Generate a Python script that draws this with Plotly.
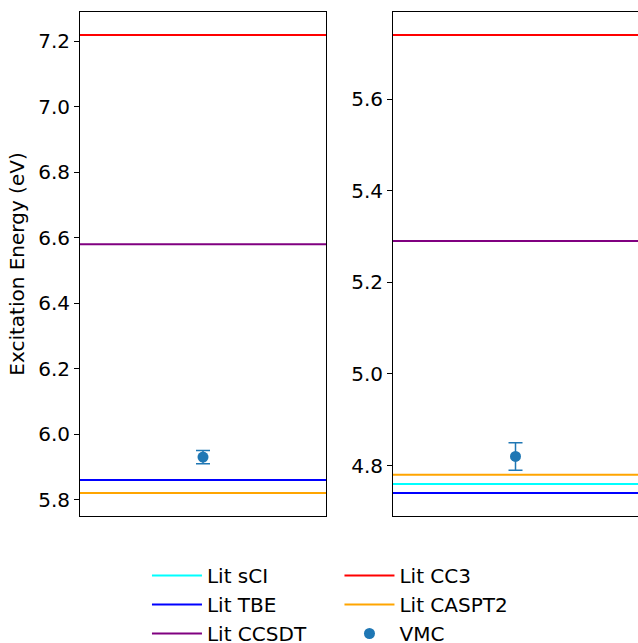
import plotly.graph_objects as go
from plotly.subplots import make_subplots

# Data
methods = ["Lit sCI", "Lit TBE", "Lit CCSDT", "Lit CC3", "Lit CASPT2"]
colors = ["#00ffff", "#0000ff", "#800080", "#ff0000", "#ffa500"]
left_vals = [None, 5.86, 6.58, 7.22, 5.82]
right_vals = [4.76, 4.74, 5.29, 5.74, 4.78]
vmc_left = 5.93
vmc_left_err = 0.02
vmc_right = 4.82
vmc_right_err = 0.03
left_range = [5.75, 7.29]
right_range = [4.69, 5.79]
left_ticks = [5.8, 6.0, 6.2, 6.4, 6.6, 6.8, 7.0, 7.2]
right_ticks = [4.8, 5.0, 5.2, 5.4, 5.6]

W, H = 638, 680
ml, mt, mr = 80, 12, 0
mb = H - 516
pw = W - ml - mr
ph = H - mt - mb

fig = make_subplots(rows=1, cols=2)
fig.update_layout(xaxis=dict(domain=[0, 246 / pw]), xaxis2=dict(domain=[313 / pw, 1]))

legend_map = {"Lit sCI": "legend", "Lit TBE": "legend", "Lit CCSDT": "legend",
              "Lit CC3": "legend2", "Lit CASPT2": "legend2"}

for name, col, lv, rv in zip(methods, colors, left_vals, right_vals):
    if lv is not None:
        fig.add_trace(go.Scatter(x=[0, 2], y=[lv, lv], mode="lines", line=dict(color=col, width=2),
                                 name=name, legendgroup=name, showlegend=False, legend=legend_map[name]),
                      row=1, col=1)
    fig.add_trace(go.Scatter(x=[0, 2], y=[rv, rv], mode="lines", line=dict(color=col, width=2),
                             name=name, legendgroup=name, showlegend=True, legend=legend_map[name]),
                  row=1, col=2)

fig.add_trace(go.Scatter(x=[1], y=[vmc_left], mode="markers", marker=dict(color="#1f77b4", size=11),
                         error_y=dict(type="data", array=[vmc_left_err], color="#1f77b4", thickness=1.5, width=7),
                         name="VMC", legendgroup="VMC", showlegend=False, legend="legend2"), row=1, col=1)
fig.add_trace(go.Scatter(x=[1], y=[vmc_right], mode="markers", marker=dict(color="#1f77b4", size=11),
                         error_y=dict(type="data", array=[vmc_right_err], color="#1f77b4", thickness=1.5, width=7),
                         name="VMC", legendgroup="VMC", showlegend=True, legend="legend2"), row=1, col=2)

font = dict(family="DejaVu Sans", size=20, color="black")
xcommon = dict(range=[0, 2], showticklabels=False, ticks="", showgrid=False, zeroline=False,
               showline=True, linecolor="black", linewidth=1, mirror=True)
fig.update_xaxes(**xcommon)
ycommon = dict(showgrid=False, zeroline=False, showline=True, linecolor="black", linewidth=1,
               ticks="outside", ticklen=5, tickcolor="black", tickfont=font)
fig.update_yaxes(range=left_range, tickvals=left_ticks, ticktext=[f"{t:.1f}" for t in left_ticks],
                 mirror=True, title=dict(text="Excitation Energy (eV)", font=font, standoff=8),
                 row=1, col=1, **ycommon)
fig.update_yaxes(range=right_range, tickvals=right_ticks, ticktext=[f"{t:.1f}" for t in right_ticks],
                 mirror=False, row=1, col=2, **ycommon)

leg_y = -(575 - 19 - 516) / ph
fig.update_layout(
    width=W, height=H,
    margin=dict(l=ml, r=mr, t=mt, b=mb),
    plot_bgcolor="white", paper_bgcolor="white",
    font=font,
    legend=dict(x=0.12, y=leg_y, xanchor="left", yanchor="top", font=font,
                bgcolor="rgba(0,0,0,0)", itemwidth=50, tracegroupgap=0),
    legend2=dict(x=0.465, y=leg_y, xanchor="left", yanchor="top", font=font,
                 bgcolor="rgba(0,0,0,0)", itemwidth=50, tracegroupgap=0),
)

fig.write_html("out.html", config={"displayModeBar": False},
               post_script="document.body.style.margin='0';document.body.style.overflow='hidden';")
